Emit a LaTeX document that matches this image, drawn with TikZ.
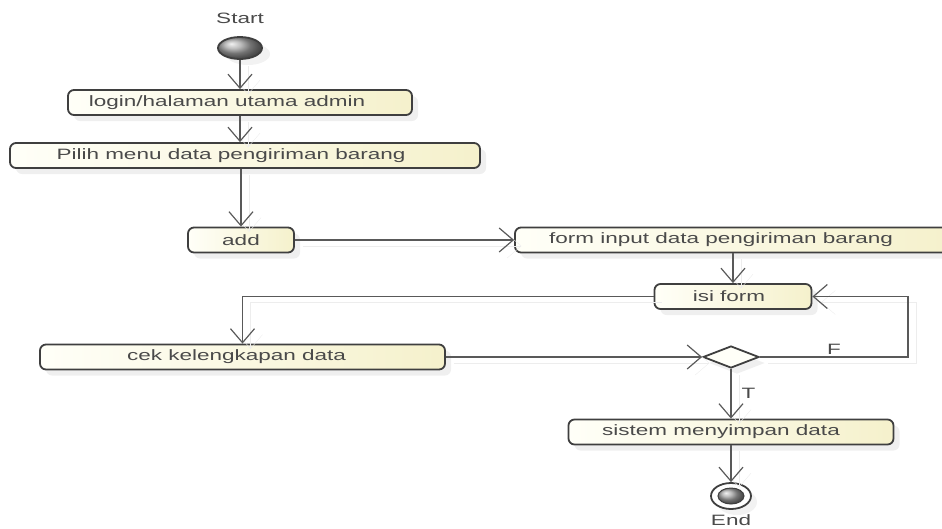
\documentclass[tikz,border=0pt]{standalone}
\usepackage{fontspec}
\setmainfont{Liberation Sans}[FakeStretch=1.5]
\usetikzlibrary{arrows.meta,shapes.geometric,shadows}
\definecolor{boxline}{HTML}{3F3F3F}
\definecolor{flowline}{HTML}{595959}
\definecolor{boxleft}{HTML}{FFFFF8}
\definecolor{boxright}{HTML}{F5F1CC}
\definecolor{txt}{HTML}{4A4A4A}

\begin{document}
\begin{tikzpicture}[x=1pt,y=-1pt,
    >={Straight Barb[length=14pt,width=24pt]},
    font=\fontsize{15}{18}\selectfont,
    action/.style={draw=boxline,line width=1.8pt,rounded corners=6pt,left color=boxleft,right color=boxright,
      text=txt,minimum height=25pt,inner sep=0pt,drop shadow={shadow xshift=6pt,shadow yshift=-6pt,fill=black!12}},
    decision/.style={diamond,draw=boxline,line width=1.8pt,fill=boxleft,minimum width=56pt,minimum height=22pt,
      inner sep=0pt,drop shadow={shadow xshift=6pt,shadow yshift=-6pt,fill=black!12}},
    startdot/.style={ellipse,draw=boxline,line width=1.8pt,ball color=black!35,minimum width=44pt,minimum height=22pt,inner sep=0pt,
      drop shadow={shadow xshift=8pt,shadow yshift=-6pt,fill=black!10}},
    endring/.style={ellipse,draw=boxline,line width=1.8pt,fill=white,minimum width=40pt,minimum height=26pt,inner sep=0pt,
      drop shadow={shadow xshift=6pt,shadow yshift=-6pt,fill=black!10}},
    enddot/.style={ellipse,draw=boxline,line width=1pt,ball color=black!35,minimum width=26pt,minimum height=16pt,inner sep=0pt},
    lbl/.style={text=txt,inner sep=2pt},
    flow/.style={->,draw=flowline,line width=1.2pt,
      preaction={draw=black!7,transform canvas={xshift=8pt,yshift=-6pt}}}]
  \useasboundingbox (0,0) rectangle (942,528);

  % start and end
  \node[lbl](startLbl) at (240,18) {Start};
  \node[startdot](start) at (240,48) {};
  \node[endring](end) at (731,496) {};
  \node[enddot](endDot) at (end) {};
  \node[lbl](endLbl) at (731,520) {End};

  % actions
  \node[action,minimum width=344pt](login) at (240,102.5) {login/halaman utama admin\kern26pt};
  \node[action,minimum width=470pt](pilih) at (245,155.5) {Pilih menu data pengiriman barang\kern28pt};
  \node[action,minimum width=106pt](add) at (241,240) {add};
  \node[action,minimum width=436pt](form) at (733,240) {form input data pengiriman barang\kern24pt};
  \node[action,minimum width=157pt](isi) at (733,296.5) {isi form\kern8pt};
  \node[action,minimum width=405pt](cek) at (242.5,357) {cek kelengkapan data\kern12pt};
  \node[decision](dia) at (731,357) {};
  \node[action,minimum width=325pt](simpan) at (731,432) {sistem menyimpan data\kern20pt};
  \coordinate (fback) at (908,296.5);

  \draw [flow] (start) -- (login);
  \draw [flow] (login) -- (login |- pilih.north);
  \draw [flow] (add |- pilih.south) -- (add);
  \draw [flow] (add) -- (form);
  \draw [flow] (form) -- (isi);
  \draw [flow] (isi.west) -| (cek.north);
  \draw [flow] (cek) -- (dia);
  \draw [flow] (dia.east) -| node[lbl,above,pos=0.25](fLbl){F} (fback) -- (isi.east);
  \draw [flow] (dia) -- node[lbl,right=8pt](tLbl){T} (simpan);
  \draw [flow] (simpan) -- (end);
\end{tikzpicture}
\end{document}
